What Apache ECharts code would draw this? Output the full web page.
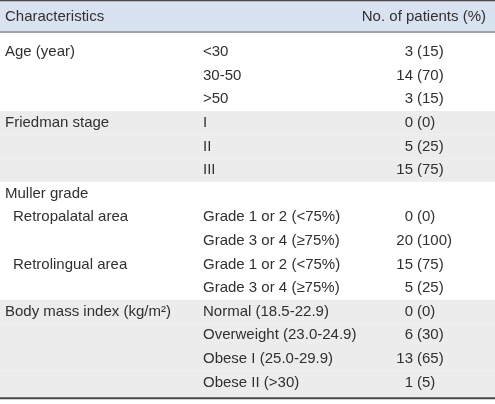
<!DOCTYPE html>
<html><head><meta charset="utf-8">
<script src="https://cdn.jsdelivr.net/npm/echarts@6/dist/echarts.min.js"></script>
<style>html,body{margin:0;padding:0;background:#fff}#c{width:495px;height:404px}</style>
</head><body><div id="c"></div>
<script>
// ---- table content ----
const headerLabels = ['Characteristics', 'No. of patients (%)'];
const characteristics = ['Age (year)', '', '', 'Friedman stage', '', '', 'Muller grade', 'Retropalatal area', '', 'Retrolingual area', '', 'Body mass index (kg/m\u00B2)', '', '', ''];
const levels = [0, 0, 0, 0, 0, 0, 0, 1, 1, 1, 1, 0, 0, 0, 0];
const subgroups = ['<30', '30-50', '>50', 'I', 'II', 'III', '', 'Grade 1 or 2 (<75%)', 'Grade 3 or 4 (\u226575%)', 'Grade 1 or 2 (<75%)', 'Grade 3 or 4 (\u226575%)', 'Normal (18.5-22.9)', 'Overweight (23.0-24.9)', 'Obese I (25.0-29.9)', 'Obese II (>30)'];
const patients = [3, 14, 3, 0, 5, 15, null, 0, 20, 15, 5, 0, 6, 13, 1];
const percents = [15, 70, 15, 0, 25, 75, null, 0, 100, 75, 25, 0, 30, 65, 5];
const groups = [0, 0, 0, 1, 1, 1, 2, 2, 2, 2, 2, 3, 3, 3, 3];

// ---- styles / layout ----
const FONT_FAMILY = '"Liberation Sans", Arial, sans-serif';
const FONT_SIZE = 15;
const TEXT_COLOR = '#303030';
const HEADER_BG = '#d9e2f0';
const BAND_BG = '#ececec';
const COL1 = 5, COL1_INDENT = 13, COL2 = 203, COUNT_RIGHT = 413, PCT_LEFT = 417, LAST_RIGHT = 486;

function txt(x, y, s, align) {
  return { type: 'text', style: { x: x, y: y, text: s, fill: TEXT_COLOR, font: FONT_SIZE + 'px ' + FONT_FAMILY, align: align || 'left', verticalAlign: 'middle' } };
}

const rowIds = subgroups.map((_, i) => 'r' + i);
const bodyData = subgroups.map((_, i) => [0, i]);

function renderHeader(params, api) {
  const cs = params.coordSys;
  const c = api.coord([0, 0]);
  const h = api.size([0, 1])[1];
  const y0 = c[1] - h / 2;
  return { type: 'group', children: [
    { type: 'rect', shape: { x: cs.x, y: y0, width: cs.width, height: h }, style: { fill: HEADER_BG } },
    { type: 'rect', shape: { x: cs.x, y: y0 - 1, width: cs.width, height: 1.2 }, style: { fill: '#4a4a4a' } },
    { type: 'rect', shape: { x: cs.x, y: y0 + h, width: cs.width, height: 2 }, style: { fill: '#a3a3a3' } },
    txt(api.coord([COL1, 0])[0], c[1] + 0.5, headerLabels[0], 'left'),
    txt(api.coord([LAST_RIGHT, 0])[0], c[1] + 0.5, headerLabels[1], 'right')
  ] };
}

function renderBody(params, api) {
  const i = api.value(1);
  const cs = params.coordSys;
  const c = api.coord([0, i]);
  const h = api.size([0, 1])[1];
  const y0 = c[1] - h / 2;
  const isLast = i === subgroups.length - 1;
  const extra = isLast ? 3 : 0;
  const children = [];
  if (groups[i] % 2 === 1) {
    children.push({ type: 'rect', shape: { x: cs.x, y: y0, width: cs.width, height: h + extra }, style: { fill: BAND_BG } });
  }
  if (characteristics[i]) {
    const x = levels[i] ? COL1_INDENT : COL1;
    children.push(txt(api.coord([x, i])[0], c[1], characteristics[i], 'left'));
  }
  if (subgroups[i]) children.push(txt(api.coord([COL2, i])[0], c[1], subgroups[i], 'left'));
  if (patients[i] !== null) {
    children.push(txt(api.coord([COUNT_RIGHT, i])[0], c[1], String(patients[i]), 'right'));
    children.push(txt(api.coord([PCT_LEFT, i])[0], c[1], '(' + percents[i] + ')', 'left'));
  }
  if (isLast) {
    children.push({ type: 'rect', shape: { x: cs.x, y: y0 + h + extra, width: cs.width, height: 2 }, style: { fill: '#454545' } });
  }
  return { type: 'group', children: children };
}

const chart = echarts.init(document.getElementById('c'), null, { renderer: 'canvas' });
chart.setOption({
  animation: false,
  backgroundColor: '#fff',
  grid: [
    { left: 0, right: 0, top: 1, height: 30 },
    { left: 0, right: 0, top: 40.2, height: 354 }
  ],
  xAxis: [
    { gridIndex: 0, type: 'value', min: 0, max: 495, show: false },
    { gridIndex: 1, type: 'value', min: 0, max: 495, show: false }
  ],
  yAxis: [
    { gridIndex: 0, type: 'category', data: ['header'], show: false, inverse: true },
    { gridIndex: 1, type: 'category', data: rowIds, show: false, inverse: true }
  ],
  series: [
    { type: 'custom', xAxisIndex: 0, yAxisIndex: 0, data: [[0, 0]], encode: { x: 0, y: 1 }, renderItem: renderHeader, silent: true, clip: false },
    { type: 'custom', xAxisIndex: 1, yAxisIndex: 1, data: bodyData, encode: { x: 0, y: 1 }, renderItem: renderBody, silent: true, clip: false, z: 2 }
  ]
});
</script></body></html>
